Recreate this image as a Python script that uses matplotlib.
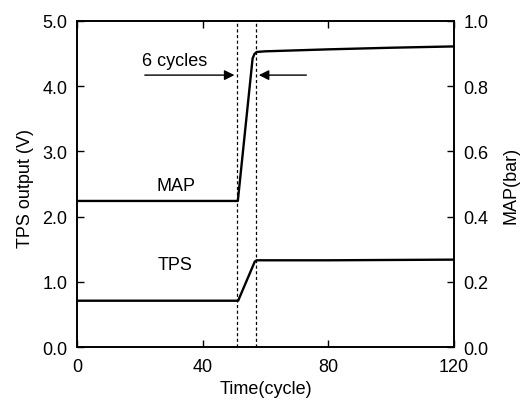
import matplotlib
matplotlib.use("Agg")
import matplotlib.pyplot as plt

plt.rcParams['font.family'] = ['Liberation Sans', 'DejaVu Sans']

# data
map_time = [0, 51.2, 55.9, 56.5, 57.2, 60, 80, 100, 120]
map_bar = [0.448, 0.448, 0.885, 0.899, 0.905, 0.907, 0.913, 0.918, 0.922]
tps_time = [0, 51.3, 56.6, 57.2, 80, 120]
tps_volt = [0.71, 0.71, 1.31, 1.33, 1.33, 1.34]
marker_cycles = [51.0, 57.0]

fs = 13

fig = plt.figure(figsize=(5.23, 4.02), dpi=100)
ax = fig.add_axes([0.1472, 0.1343, 0.7208, 0.811])
ax2 = ax.twinx()

ax.plot(tps_time, tps_volt, color='black', lw=1.7)
ax2.plot(map_time, map_bar, color='black', lw=1.7)
for c in marker_cycles:
    ax.axvline(c, color='black', lw=0.9, ls=(0, (2.5, 2)))

ax.set_xlim(0, 120)
ax.set_ylim(0, 5)
ax2.set_ylim(0, 1.0)
ax.set_xticks([0, 40, 80, 120])
ax.set_yticks([0, 1, 2, 3, 4, 5])
ax.set_yticklabels(['0.0', '1.0', '2.0', '3.0', '4.0', '5.0'])
ax2.set_yticks([0, 0.2, 0.4, 0.6, 0.8, 1.0])
ax2.set_yticklabels(['0.0', '0.2', '0.4', '0.6', '0.8', '1.0'])

ax.tick_params(axis='x', direction='in', top=True, length=5, width=1, pad=8, labelsize=fs)
ax.tick_params(axis='y', direction='in', length=5, width=1, pad=7, labelsize=fs)
ax2.tick_params(axis='y', direction='in', length=5, width=1, pad=7, labelsize=fs)
for a in (ax, ax2):
    for s in a.spines.values():
        s.set_linewidth(1.2)

ax.set_xlabel('Time(cycle)', fontsize=fs)
ax.xaxis.set_label_coords(0.5, -0.100)
ax.set_ylabel('TPS output (V)', fontsize=fs)
ax.yaxis.set_label_coords(-0.115, 0.49)
ax2.set_ylabel('MAP(bar)', fontsize=fs)
ax2.yaxis.set_label_coords(1.130, 0.5)

# annotations
ax.text(31.2, 4.40, '6 cycles', fontsize=fs, ha='center', va='center')
ax.text(31.5, 2.48, 'MAP', fontsize=fs, ha='center', va='center')
ax.text(31.2, 1.26, 'TPS', fontsize=fs, ha='center', va='center')
ax.annotate('', xy=(marker_cycles[0], 4.17), xytext=(20.7, 4.17),
            arrowprops=dict(arrowstyle='-|>', color='black', lw=1, mutation_scale=15))
ax.annotate('', xy=(marker_cycles[1], 4.17), xytext=(73.9, 4.17),
            arrowprops=dict(arrowstyle='-|>', color='black', lw=1, mutation_scale=15))

fig.savefig('out.png', dpi=100)
